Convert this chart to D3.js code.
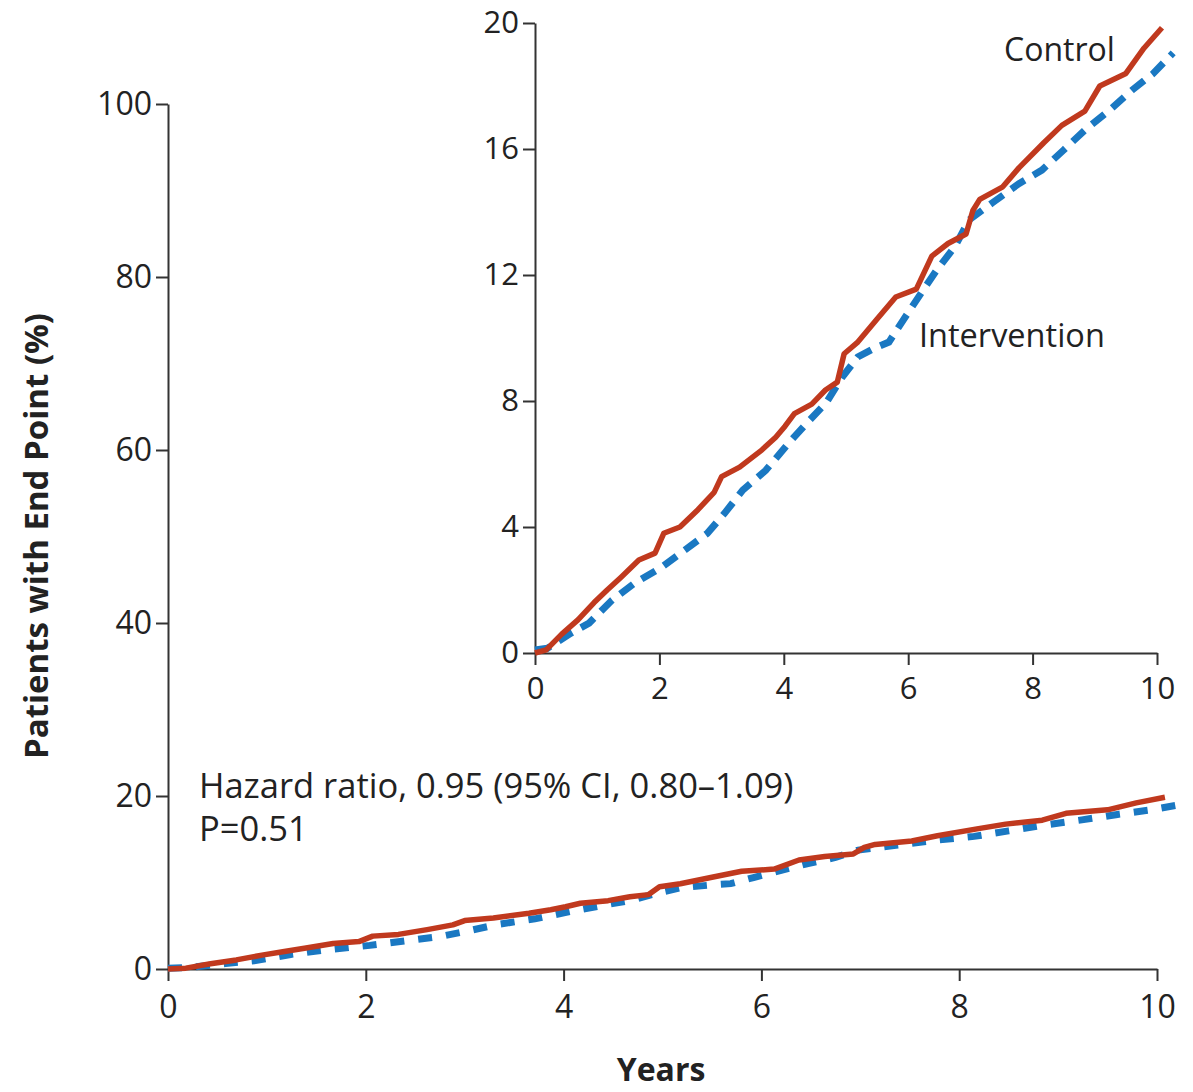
<!DOCTYPE html>
<html>
<head>
<meta charset="utf-8">
<script src="https://cdn.jsdelivr.net/npm/d3@7"></script>
<style>
  body { margin: 0; background: #fff; }
  text { font-family: "Open Sans", sans-serif; fill: #222; }
</style>
</head>
<body>
<div id="chart-container"></div>
<script>
// cumulative incidence (years, % of patients)
var controlYears = [0, 0.18, 0.43, 0.69, 0.95, 1.16, 1.38, 1.67, 1.93, 2.07, 2.33, 2.62, 2.88, 3.0, 3.29, 3.65, 3.87, 4.02, 4.17, 4.45, 4.67, 4.86, 4.97, 5.18, 5.5, 5.8, 6.13, 6.38, 6.64, 6.93, 7.04, 7.15, 7.52, 7.78, 8.18, 8.47, 8.84, 9.08, 9.5, 9.79, 10.08];
var controlPct = [0, 0.1, 0.6, 1.05, 1.6, 2.0, 2.4, 2.95, 3.17, 3.8, 4.0, 4.55, 5.1, 5.6, 5.9, 6.45, 6.85, 7.2, 7.6, 7.9, 8.35, 8.6, 9.5, 9.85, 10.6, 11.3, 11.55, 12.6, 13.0, 13.3, 14.05, 14.4, 14.8, 15.4, 16.2, 16.75, 17.2, 18.0, 18.4, 19.2, 19.85];
var interventionYears = [0, 0.2, 0.58, 0.87, 1.24, 1.59, 2.04, 2.41, 2.77, 3.05, 3.34, 3.71, 4.08, 4.37, 4.68, 4.94, 5.19, 5.48, 5.69, 5.92, 6.2, 6.46, 6.75, 6.98, 7.36, 7.78, 8.15, 8.5, 8.84, 9.24, 9.6, 9.94, 10.26];
var interventionPct = [0.1, 0.15, 0.63, 0.95, 1.68, 2.2, 2.73, 3.27, 3.8, 4.44, 5.17, 5.8, 6.67, 7.3, 7.94, 8.76, 9.4, 9.7, 9.87, 10.57, 11.4, 12.16, 12.9, 13.75, 14.3, 14.9, 15.33, 15.97, 16.6, 17.24, 17.87, 18.4, 19.05];

var xTicks = [0, 2, 4, 6, 8, 10];
var mainYTicks = [0, 20, 40, 60, 80, 100];
var insetYTicks = [0, 4, 8, 12, 16, 20];

var control = controlYears.map(function(d, i) { return {t: d, v: controlPct[i]}; });
var intervention = interventionYears.map(function(d, i) { return {t: d, v: interventionPct[i]}; });

var red = "#c0391e", blue = "#1a78c2", axisColor = "#333";

var svg = d3.select("#chart-container").append("svg")
  .attr("width", 1193).attr("height", 1092);

function drawPanel(g, x, y, yTicks, opt) {
  var xAxis = d3.axisBottom(x).tickValues(xTicks).tickSize(opt.tick).tickPadding(opt.xpad).tickSizeOuter(0);
  var yAxis = d3.axisLeft(y).tickValues(yTicks).tickSize(opt.tick).tickPadding(4).tickSizeOuter(0);

  var ya = g.append("g").attr("transform", "translate(" + x.range()[0] + ",0)").call(yAxis);
  var xa = g.append("g").attr("transform", "translate(0," + y.range()[0] + ")").call(xAxis);

  [xa, ya].forEach(function(a) {
    a.attr("font-family", null);
    a.select(".domain").attr("stroke", axisColor).attr("stroke-width", 2);
    a.selectAll(".tick line").attr("stroke", axisColor).attr("stroke-width", 2);
    a.selectAll(".tick text").style("font-size", opt.font + "px").attr("fill", "#222");
  });

  var line = d3.line()
    .x(function(d) { return x(d.t); })
    .y(function(d) { return y(d.v); });

  g.append("path").datum(intervention)
    .attr("d", line)
    .attr("fill", "none")
    .attr("stroke", blue)
    .attr("stroke-width", 7)
    .attr("stroke-dasharray", opt.dash);

  g.append("path").datum(control)
    .attr("d", line)
    .attr("fill", "none")
    .attr("stroke", red)
    .attr("stroke-width", 5.5)
    .attr("stroke-linejoin", "round");
}

// main panel
var mx = d3.scaleLinear().domain([0, 10]).range([168, 1157]);
var my = d3.scaleLinear().domain([0, 100]).range([969, 104]);
drawPanel(svg.append("g"), mx, my, mainYTicks, {tick: 12, font: 32, xpad: 14, dash: "14,14"});

// inset panel
var ix = d3.scaleLinear().domain([0, 10]).range([535, 1157]);
var iy = d3.scaleLinear().domain([0, 20]).range([653, 23]);
drawPanel(svg.append("g"), ix, iy, insetYTicks, {tick: 12, font: 31, xpad: 12, dash: "16,10"});

svg.append("text")
  .attr("x", 1004).attr("y", 61)
  .style("font-size", "32px")
  .text("Control");

svg.append("text")
  .attr("x", 919).attr("y", 347)
  .style("font-size", "32.5px")
  .text("Intervention");

svg.append("text")
  .attr("x", 199).attr("y", 798)
  .style("font-size", "34.5px")
  .text("Hazard ratio, 0.95 (95% CI, 0.80\u20131.09)");

svg.append("text")
  .attr("x", 199).attr("y", 841)
  .style("font-size", "34.5px")
  .text("P=0.51");

svg.append("text")
  .attr("transform", "translate(48,536) rotate(-90)")
  .attr("text-anchor", "middle")
  .style("font-size", "33px")
  .style("font-weight", "bold")
  .text("Patients with End Point (%)");

svg.append("text")
  .attr("x", 661).attr("y", 1081)
  .attr("text-anchor", "middle")
  .style("font-size", "32px")
  .style("font-weight", "bold")
  .text("Years");
</script>
</body>
</html>
